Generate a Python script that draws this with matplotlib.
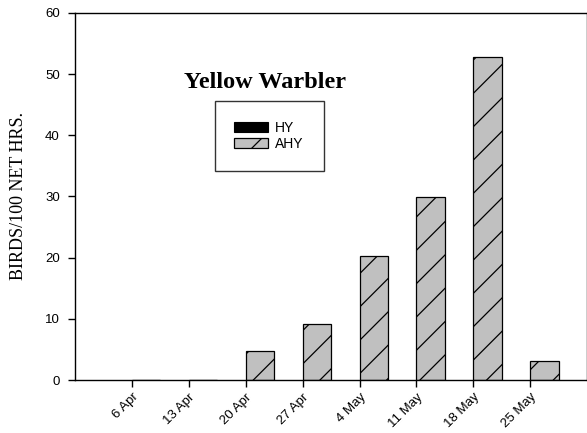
import numpy as np
from matplotlib import pyplot as plt

weeks = ["6 Apr", "13 Apr", "20 Apr", "27 Apr", "4 May", "11 May", "18 May", "25 May"]
hy = [0, 0, 0, 0, 0, 0, 0, 0]
ahy = [0, 0, 4.7, 9.1, 20.3, 29.9, 52.8, 3.1]

plt.rcParams['font.family'] = ['Liberation Sans', 'DejaVu Sans']
plt.rcParams['hatch.linewidth'] = 0.9

fig = plt.figure(figsize=(5.87, 4.33), dpi=100)
ax = fig.add_axes([0.128, 0.1224, 0.872, 0.8476])

x = np.arange(len(weeks))
ax.bar(x, hy, width=0.5, align='edge', color='black', edgecolor='black',
       linewidth=0.8, label='HY')
ax.bar(x, ahy, width=0.5, align='edge', color='#c0c0c0', edgecolor='black',
       hatch='/', linewidth=0.9, label='AHY')

ax.set_xlim(-1, 8)
ax.set_ylim(0, 60)
ax.set_xticks(x)
ax.set_xticklabels(weeks, rotation=45, ha='right', rotation_mode='anchor', fontsize=9.5)
ax.set_yticks(range(0, 61, 10))
ax.tick_params(axis='y', labelsize=9.5, direction='out', length=5, width=1, pad=6)
ax.tick_params(axis='x', direction='out', length=5, width=1, pad=3)
ax.set_ylabel("BIRDS/100 NET HRS.", family='Liberation Serif', fontsize=13)
ax.yaxis.set_label_coords(-0.094, 0.5)

ax.text(0.371, 0.796, "Yellow Warbler", transform=ax.transAxes, ha='center', va='baseline',
        family='Liberation Serif', fontweight='bold', fontsize=17.5)

leg = ax.legend(loc='upper left', bbox_to_anchor=(0.273, 0.76, 0.213, 0.0), mode='expand',
                fontsize=10, fancybox=False, edgecolor='#333333', framealpha=1,
                borderpad=1.4, handlelength=2.4, handleheight=0.72, labelspacing=0.2,
                handletextpad=0.55, borderaxespad=0)
leg.get_frame().set_linewidth(1.0)

for s in ax.spines.values():
    s.set_linewidth(1.0)

fig.savefig("out.png", dpi=100)
